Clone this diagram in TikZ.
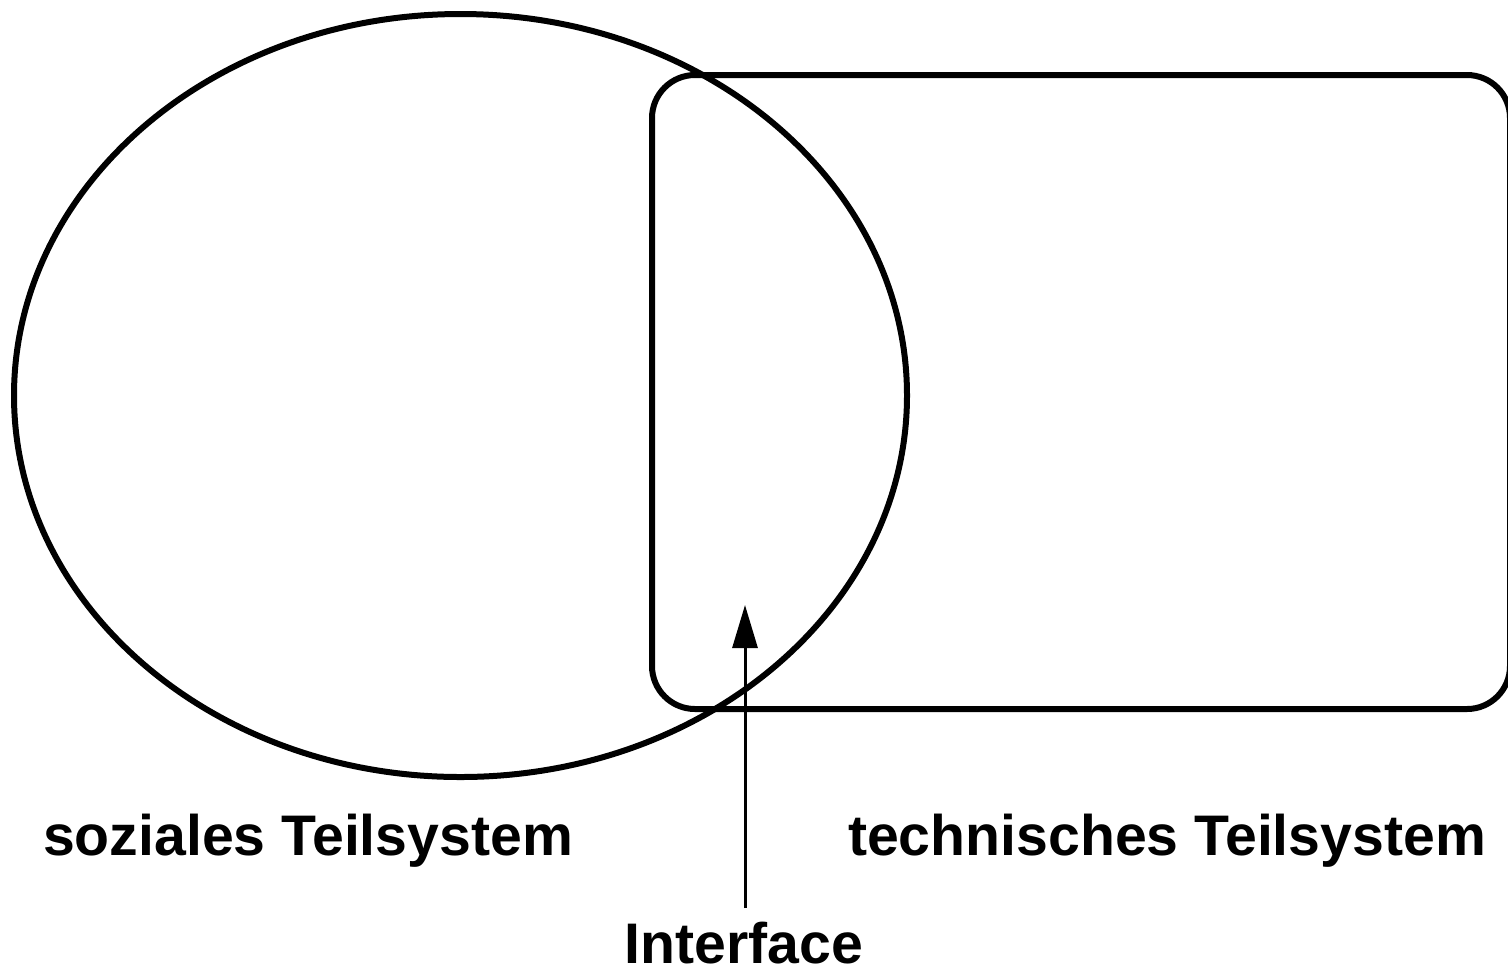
\documentclass[tikz,border=0pt]{standalone}
\usepackage{fontspec}
\setmainfont{Liberation Sans}
\usetikzlibrary{shapes.geometric,arrows.meta}
\begin{document}
\begin{tikzpicture}[x=0.5pt,y=-0.5pt,
  shapeline/.style={draw=black,line width=3pt,inner sep=0pt},
  lbl/.style={font=\bfseries\fontsize{28.6pt}{32pt}\selectfont,anchor=base,inner sep=0pt},
  pointer/.style={line width=1.5pt,-{Triangle[length=21.5pt,width=12.5pt]}}]
\useasboundingbox (0,0) rectangle (1508,971);
\clip (0,0) rectangle (1508,971);
\node[shapeline,ellipse,minimum width=446.5pt,minimum height=381.5pt] (soz) at (460.5,395.5) {};
\node[shapeline,rectangle,rounded corners=21.5pt,minimum width=429pt,minimum height=317pt] (tech) at (1081,392) {};
\node[lbl] (lsoz) at (308,855) {soziales Teilsystem};
\node[lbl] (ltech) at (1167,855) {technisches Teilsystem};
\node[lbl] (lint) at (744,963) {Interface};
\coordinate (astart) at (745,908);
\coordinate (atip) at (745,605);
\draw[pointer] (astart) -- (atip);
\end{tikzpicture}
\end{document}
